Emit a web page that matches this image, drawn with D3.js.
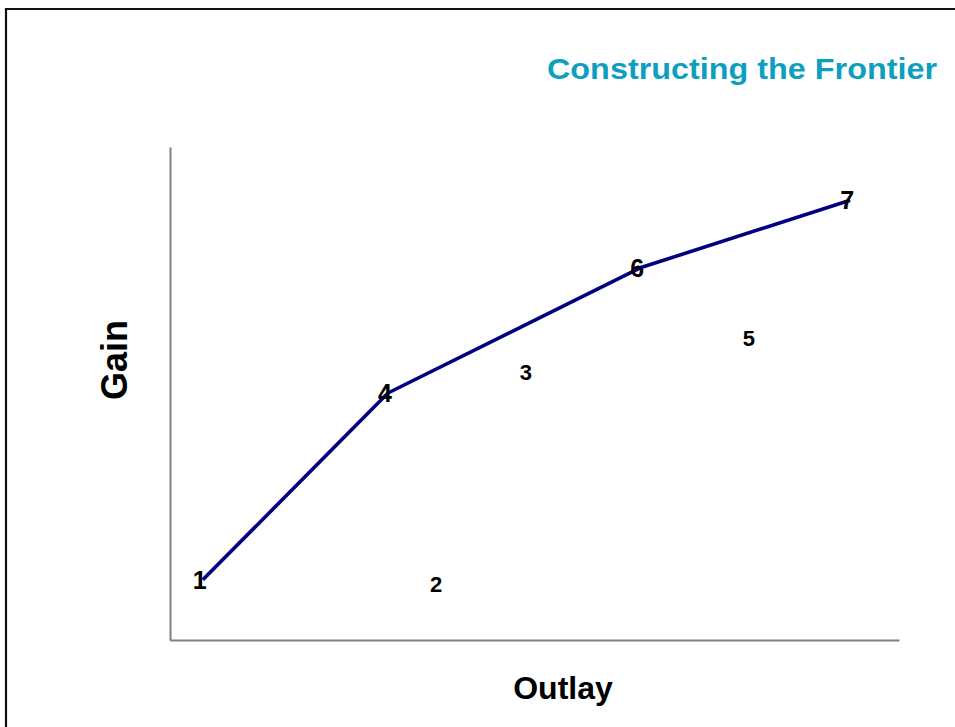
<!DOCTYPE html>
<html>
<head>
<meta charset="utf-8">
<script src="https://cdn.jsdelivr.net/npm/d3@7"></script>
<style>
  html, body { margin: 0; padding: 0; background: #fff; }
  svg { display: block; }
  text { font-family: "Liberation Sans", Arial, Helvetica, sans-serif; font-weight: bold; }
</style>
</head>
<body>
<svg id="chart" width="955" height="727"></svg>
<script>
// Data
const projects = ["1", "2", "3", "4", "5", "6", "7"];
const outlay   = [0.45, 3.65, 4.88, 2.99, 7.94, 6.45, 9.33];
const gain     = [1.22, 1.14, 5.44, 5.01, 6.13, 7.55, 8.92];
const frontier = ["1", "4", "6", "7"];
const titleText = "Constructing the Frontier";
const xLabel = "Outlay";
const yLabel = "Gain";

const svg = d3.select("#chart");
const W = 955, H = 727;

// frame (top + left)
svg.append("path")
  .attr("d", `M6,${H + 5}V9H${W + 5}`)
  .attr("fill", "none").attr("stroke", "#111").attr("stroke-width", 2.2);

const x = d3.scaleLinear().domain([0, 10]).range([170, 899]);
const y = d3.scaleLinear().domain([0, 10]).range([640, 147]);

// axes (plain lines, no ticks)
const gx = svg.append("g").attr("transform", `translate(0,${y(0)})`)
  .call(d3.axisBottom(x).ticks(0).tickSize(0).tickFormat(""));
const gy = svg.append("g").attr("transform", `translate(${x(0)},0)`)
  .call(d3.axisLeft(y).ticks(0).tickSize(0).tickFormat(""));
[gx, gy].forEach(g => g.select(".domain").attr("stroke", "#808080").attr("stroke-width", 2));

const pts = projects.map((p, i) => ({ p, x: outlay[i], y: gain[i] }));
const fpts = frontier.map(f => pts.find(d => d.p === f));

svg.append("path")
  .datum(fpts)
  .attr("d", d3.line().x(d => x(d.x)).y(d => y(d.y)))
  .attr("fill", "none").attr("stroke", "#000080").attr("stroke-width", 3.6)
  .attr("stroke-linejoin", "round");

svg.append("g").selectAll("text").data(pts).join("text")
  .attr("x", d => x(d.x) - (frontier.includes(d.p) ? 3 : 0))
  .attr("y", d => y(d.y))
  .attr("dy", "0.36em")
  .attr("text-anchor", "middle")
  .attr("font-size", d => frontier.includes(d.p) ? 25 : 22)
  .attr("fill", "#000")
  .text(d => d.p);

// title
svg.append("text")
  .attr("x", 547).attr("y", 79)
  .attr("font-size", 30)
  .attr("fill", "#0E9FBF")
  .attr("textLength", 390).attr("lengthAdjust", "spacingAndGlyphs")
  .text(titleText);

// axis titles
svg.append("text")
  .attr("x", 563).attr("y", 699)
  .attr("text-anchor", "middle")
  .attr("font-size", 32)
  .attr("fill", "#000")
  .text(xLabel);

svg.append("text")
  .attr("transform", "translate(127,360) rotate(-90)")
  .attr("text-anchor", "middle")
  .attr("font-size", 36)
  .attr("fill", "#000")
  .text(yLabel);
</script>
</body>
</html>
